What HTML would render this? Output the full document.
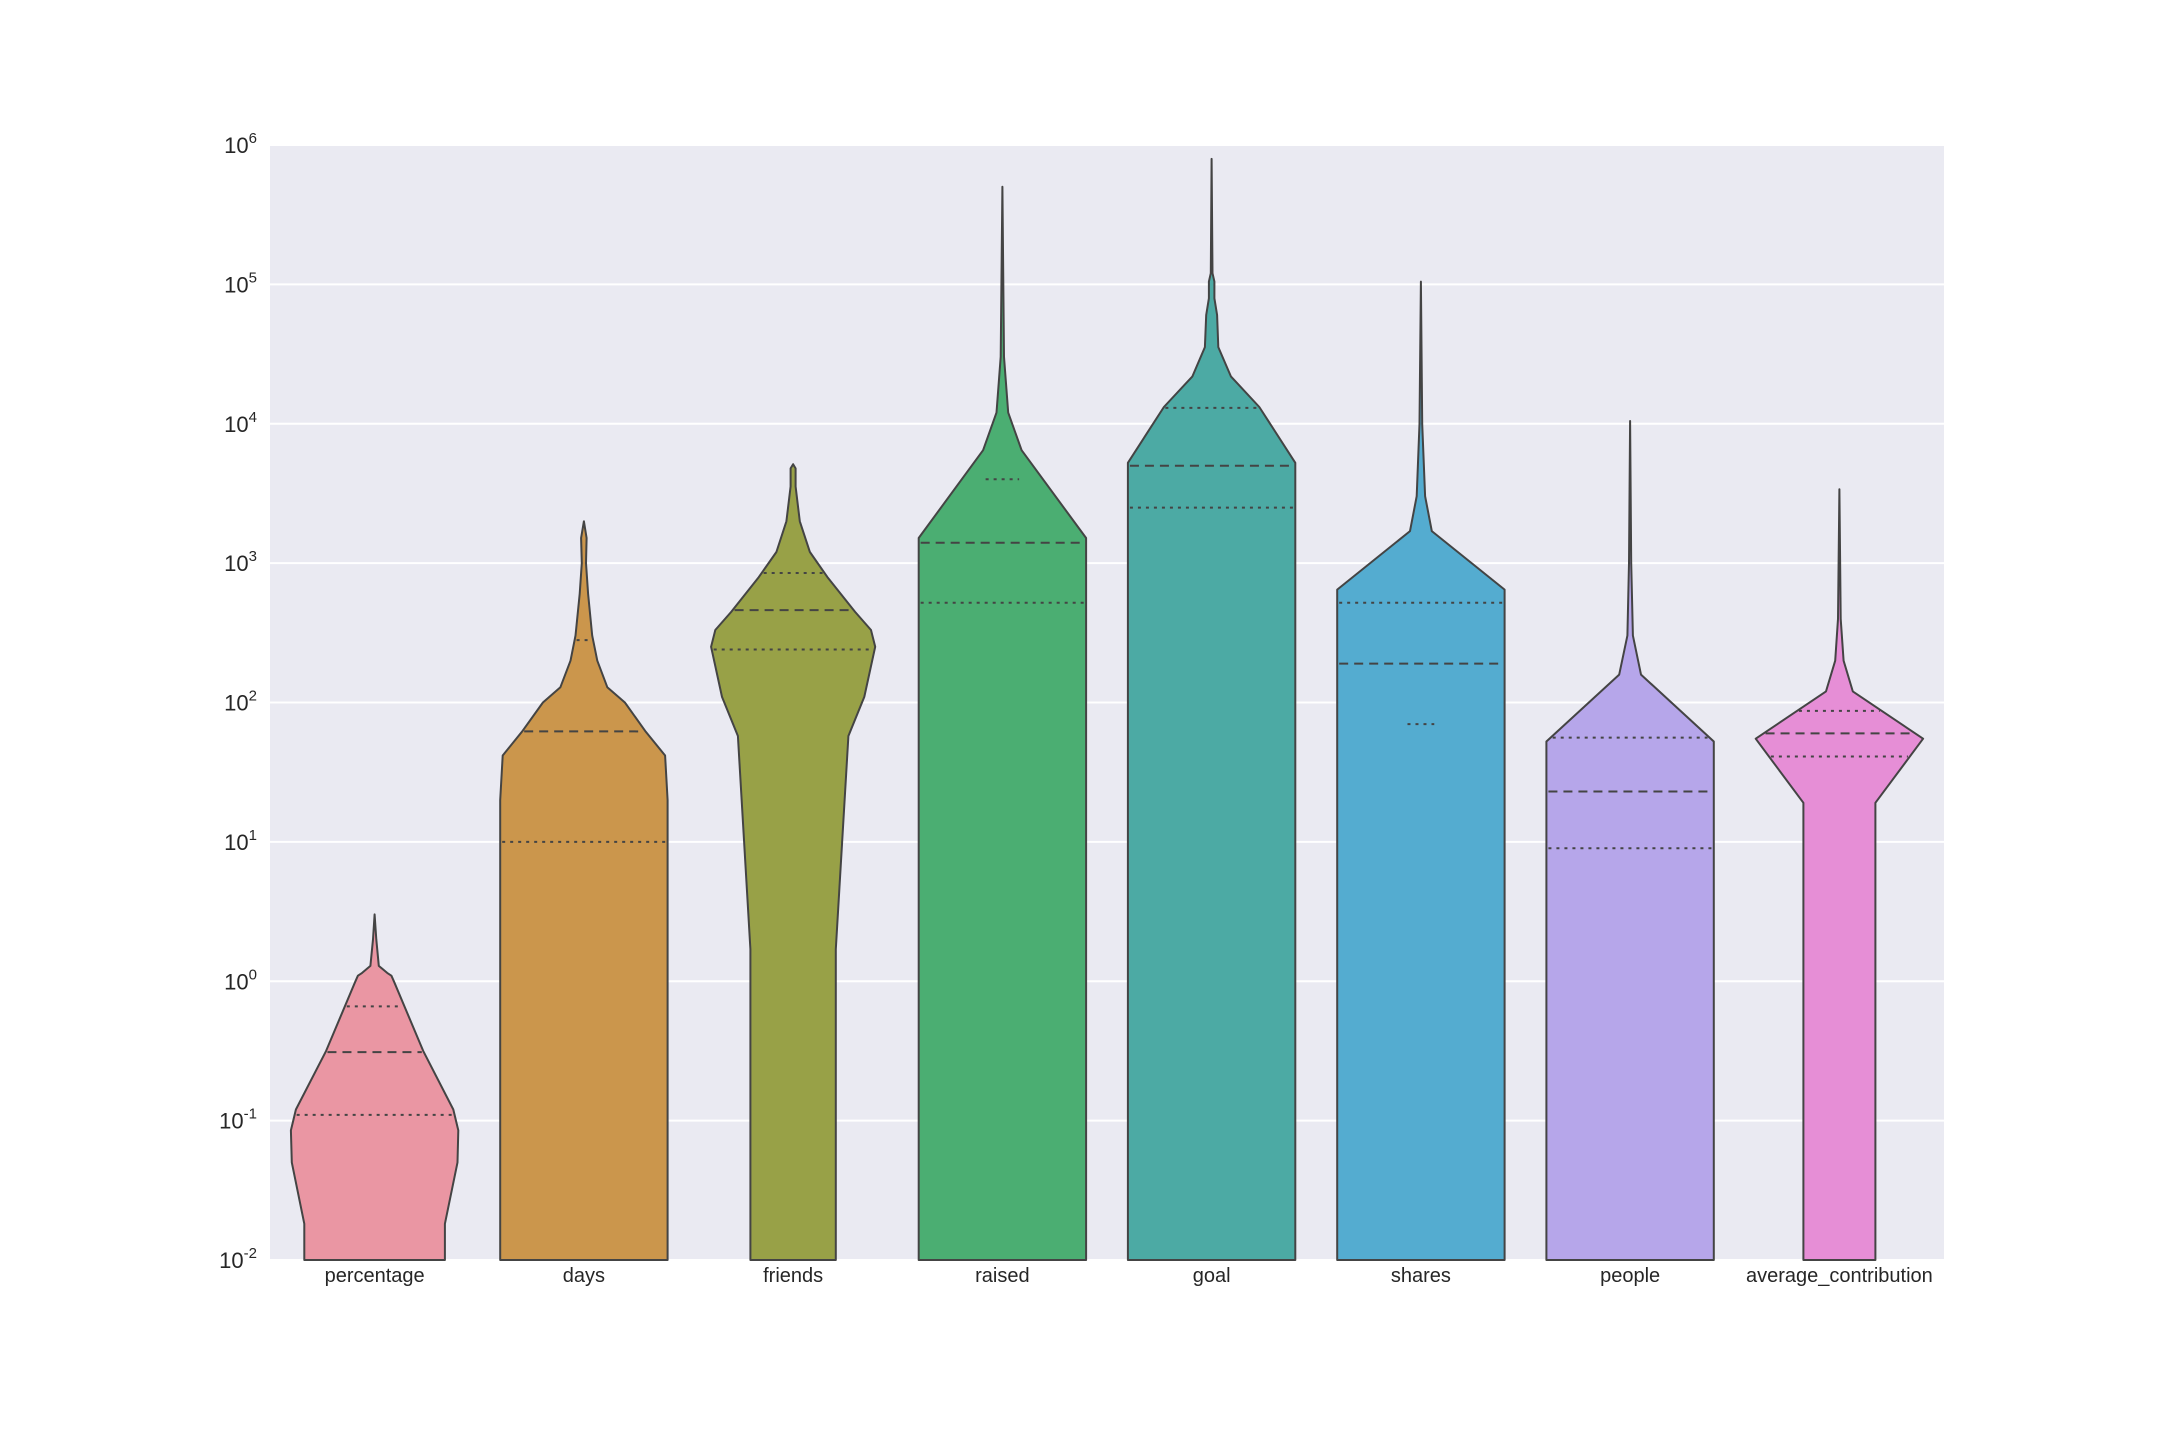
<!DOCTYPE html>
<html><head><meta charset="utf-8"><style>
body{margin:0;background:#fff;}
svg{display:block;font-family:"Liberation Sans",sans-serif;}
</style></head><body>
<svg id="chart" width="2160" height="1440">
<rect x="270" y="145" width="1674" height="1115" fill="#eaeaf2"/>
<g id="grid"></g><g id="violins"></g><g id="yticks"></g><g id="xticks"></g>
</svg>
<script>
const categories=["percentage","days","friends","raised","goal","shares","people","average_contribution"];
const colors=["#ea96a3","#cb964c","#98a147","#4bae72","#4caaa4","#54acd0","#b6a6ea","#e68ed6"];
const yTickExps=[-2,-1,0,1,2,3,4,5,6];
// density outlines: log10(value) and relative half-width
const shapeLogs=[
 [-2,-1.74,-1.3,-1.07,-0.92,-0.5,0,0.04,0.06,0.11,0.3,0.48],
 [-2,1.3,1.62,1.79,2.0,2.11,2.3,2.48,2.78,3.0,3.18,3.3],
 [-2,0.23,1.76,2.04,2.4,2.52,2.65,2.9,3.08,3.3,3.55,3.68,3.71],
 [-2,3.18,3.81,4.08,4.48,5.7],
 [-2,3.72,4.12,4.34,4.55,4.78,4.9,5.02,5.08,5.9],
 [-2,2.81,3.23,3.48,4.0,5.02],
 [-2,1.72,2.2,2.48,3.0,4.02],
 [-2,1.28,1.74,2.08,2.3,2.6,3.53]
];
const shapeWidths=[
 [0.84,0.84,0.99,1.0,0.94,0.58,0.23,0.2,0.15,0.05,0.02,0.01],
 [1,1,0.97,0.74,0.49,0.28,0.16,0.1,0.05,0.025,0.033,0.01],
 [0.51,0.51,0.66,0.85,0.98,0.93,0.74,0.41,0.2,0.08,0.03,0.03,0.01],
 [1,1,0.23,0.07,0.02,0.01],
 [1,1,0.57,0.23,0.08,0.065,0.033,0.033,0.01,0.01],
 [1,1,0.13,0.05,0.016,0.01],
 [1,1,0.13,0.033,0.013,0.01],
 [0.43,0.43,1,0.16,0.05,0.016,0.01]
];
const q1=[0.11,10,240,520,2500,70,9,41];
const medians=[0.31,62,460,1400,5000,190,23,60];
const q3=[0.66,280,850,4000,13000,520,56,87];
// quartile-line half-width overrides (fraction of max), null = follow outline
const q1LineW=[null,null,null,null,null,0.16,null,null];
const q3LineW=[null,null,null,0.2,null,null,null,null];

const L=270,R=1944,T=145,B=1260,LO=-2,HI=6;
const NS="http://www.w3.org/2000/svg";
const y=v=>B-(v-LO)/(HI-LO)*(B-T);
const band=(R-L)/categories.length;
const xc=i=>L+band*(i+0.5);
const maxHW=band*0.4;
function mk(tag,attrs,parent){const e=document.createElementNS(NS,tag);for(const k in attrs)e.setAttribute(k,attrs[k]);parent.appendChild(e);return e;}
const grid=document.getElementById('grid'),vg=document.getElementById('violins'),yt=document.getElementById('yticks'),xt=document.getElementById('xticks');
yTickExps.forEach(ex=>{
 const gl=mk('line',{x1:L,x2:R,y1:y(ex),y2:y(ex),stroke:'#fff','stroke-width':2},grid);
 
 
 const t=mk('text',{x:257,y:y(ex)+8,'text-anchor':'end','font-size':22,fill:'#262626'},yt);
 
 
 t.textContent='10';
 const s=document.createElementNS(NS,'tspan');s.setAttribute('dy','-10');s.setAttribute('font-size','15');s.textContent=ex;t.appendChild(s);
});
function hwAt(i,lv){const ls=shapeLogs[i],ws=shapeWidths[i];
 for(let k=0;k<ls.length-1;k++){if(lv>=ls[k]&&lv<=ls[k+1]){const f=(lv-ls[k])/(ls[k+1]-ls[k]);return (ws[k]+f*(ws[k+1]-ws[k]))*maxHW;}}return 0;}
categories.forEach((c,i)=>{
 const cx=xc(i),ls=shapeLogs[i],ws=shapeWidths[i];
 let pts=[];
 for(let k=0;k<ls.length;k++){const w=k===ls.length-1?0:ws[k]*maxHW;pts.push([cx+w,y(ls[k])]);}
 for(let k=ls.length-1;k>=0;k--){const w=k===ls.length-1?0:ws[k]*maxHW;pts.push([cx-w,y(ls[k])]);}
 const p=mk('path',{d:'M'+pts.map(q=>q[0].toFixed(1)+','+q[1].toFixed(1)).join('L')+'Z',fill:colors[i],stroke:'#444','stroke-width':2,'stroke-linejoin':'round'},vg);
 
 
 [[q1[i],'3,5','quartile-1',q1LineW[i]],[medians[i],'9,6','median',null],[q3[i],'3,5','quartile-3',q3LineW[i]]].forEach(([v,da,nm,ow])=>{
  const lv=Math.log10(v),w=ow!==null?ow*maxHW:hwAt(i,lv)-2;
  const ln=mk('line',{x1:cx-w,x2:cx+w,y1:y(lv),y2:y(lv),stroke:'#444','stroke-width':2,'stroke-dasharray':da},vg);
  
  
 });
 const t=mk('text',{x:cx,y:1282,'text-anchor':'middle','font-size':20,fill:'#262626'},xt);
 
 
 t.textContent=c;
});
</script>
</body></html>
